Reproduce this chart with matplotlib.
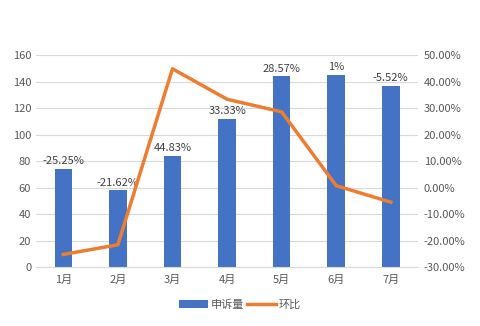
import matplotlib
matplotlib.use('Agg')
import matplotlib.pyplot as plt
import numpy as np

plt.rcParams['font.family'] = ['Noto Sans CJK SC', 'DejaVu Sans']

months = ['1月', '2月', '3月', '4月', '5月', '6月', '7月']
complaints = [74, 58, 84, 112, 144, 145, 137]
mom = [-25.25, -21.62, 44.83, 33.33, 28.57, 0.69, -5.52]
mom_labels = ['-25.25%', '-21.62%', '44.83%', '33.33%', '28.57%', '1%', '-5.52%']

bar_color = '#4472C4'
line_color = '#ED7D31'
text_color = '#595959'

fig = plt.figure(figsize=(4.8, 3.26), dpi=100)
ax = fig.add_axes([0.075, 0.181, 0.796, 0.650])
x = np.arange(len(months))

bars = ax.bar(x, complaints, width=0.32, color=bar_color, label='申诉量', zorder=2)
ax.set_ylim(0, 160)
ax.set_yticks(range(0, 161, 20))
ax.set_xlim(-0.5, len(months) - 0.5)
ax.set_xticks(x)
ax.set_xticklabels(months)
ax.grid(axis='y', color='#D9D9D9', linewidth=0.8, zorder=0)
ax.set_axisbelow(True)
for s in ['top', 'right', 'left']:
    ax.spines[s].set_visible(False)
ax.spines['bottom'].set_color('#D9D9D9')
ax.tick_params(axis='both', length=0, colors=text_color, labelsize=8)
ax.tick_params(axis='x', pad=6)

for xi, v, lab in zip(x, complaints, mom_labels):
    ax.text(xi, v + 2, lab, ha='center', va='bottom', fontsize=8, color='#404040')

ax2 = ax.twinx()
line, = ax2.plot(x, mom, color=line_color, linewidth=2.5, label='环比', zorder=3)
ax2.set_ylim(-30, 50)
ax2.set_yticks(range(-30, 51, 10))
ax2.set_yticklabels(['%.2f%%' % t for t in range(-30, 51, 10)])
for s in ['top', 'right', 'left', 'bottom']:
    ax2.spines[s].set_visible(False)
ax2.tick_params(axis='y', length=0, colors=text_color, labelsize=8, pad=4)

fig.legend([bars, line], ['申诉量', '环比'], loc='center', bbox_to_anchor=(0.5, 0.065),
           ncol=2, frameon=False, fontsize=8, handlelength=2.6, handletextpad=0.3,
           columnspacing=0.2, labelcolor=text_color)

fig.savefig('out.png', dpi=100)
